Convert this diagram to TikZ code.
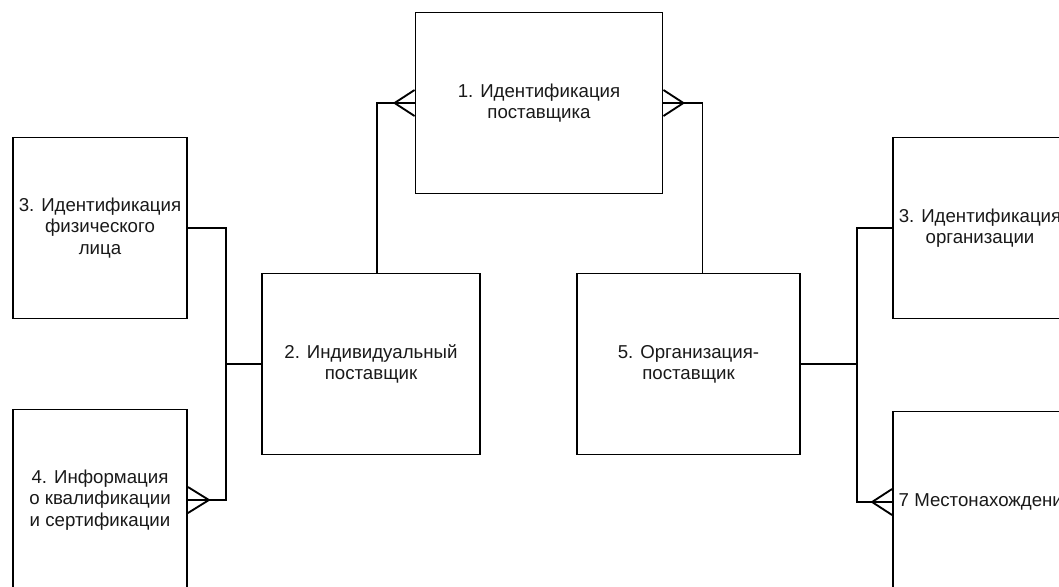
\documentclass[tikz,border=0pt]{standalone}
\usepackage{fontspec}
\setmainfont{Liberation Sans}
\usetikzlibrary{calc}
\def\px{0.75pt}
\tikzset{
  entity/.style={draw, line width=1.4pt, minimum width=174*\px, minimum height=181*\px,
    inner sep=0pt, align=center, font=\fontsize{14}{16}\selectfont, text=black!90},
  link/.style={line width=1.4pt}
}
\begin{document}
\begin{tikzpicture}[x=\px, y=-\px]
% Set the page size (pixels of the reference)
\useasboundingbox (0,0) rectangle (1059,586);
\clip (0,0) rectangle (1059,586);

% Draw the boxes
\node[entity, minimum width=247*\px] (supid) at (539,103) {1. Идентификация\\поставщика};
\node[entity, minimum width=218*\px] (indiv) at (371,364) {2. Индивидуальный\\поставщик};
\node[entity, minimum width=223*\px] (org) at (688.5,364) {5. Организация-\\поставщик};
\node[entity] (persid) at (100,228) {3. Идентификация\\физического\\лица};
\node[entity] (qual) at (100,500) {4. Информация\\о квалификации\\и сертификации};
\node[entity] (orgid) at (980,228) {3. Идентификация\\организации};
\node[entity, minimum width=186*\px] (loc) at (986,502) {7 Местонахождение};

% Links to box 1
\draw[link] ($(indiv.north)+(6,0)$) |- (supid.west);
\draw[link] ($(supid.west)+(0,-13)$) -- ($(supid.west)+(-20,0)$) -- ($(supid.west)+(0,13)$);
\draw[link] ($(org.north)+(14,0)$) |- (supid.east);
\draw[link] ($(supid.east)+(0,-13)$) -- ($(supid.east)+(20,0)$) -- ($(supid.east)+(0,13)$);

% Left bus
\coordinate (lbus) at (226,364);
\draw[link] (indiv.west) -- (lbus);
\draw[link] (persid.east) -| (lbus) |- (qual.east);
\draw[link] ($(qual.east)+(0,-13)$) -- ($(qual.east)+(21,0)$) -- ($(qual.east)+(0,13)$);

% Right bus
\coordinate (rbus) at (857,364);
\draw[link] (org.east) -- (rbus);
\draw[link] (orgid.west) -| (rbus) |- (loc.west);
\draw[link] ($(loc.west)+(0,-13)$) -- ($(loc.west)+(-20,0)$) -- ($(loc.west)+(0,13)$);
\end{tikzpicture}
\end{document}
